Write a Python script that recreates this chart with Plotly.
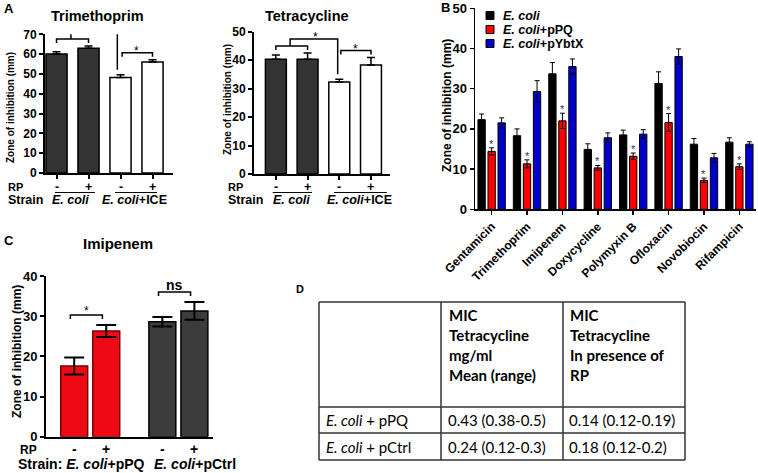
import plotly.graph_objects as go

# ---------------- data ----------------
# Panel A
a_rp = ["-", "+", "-", "+"]
a_strains = ["<i>E. coli</i>", "<i>E. coli</i>+ICE"]
trim_vals = [60.0, 62.9, 48.2, 56.0]
trim_err = [1.2, 1.2, 1.4, 1.2]
tetra_vals = [40.3, 40.3, 32.3, 38.3]
tetra_err = [1.5, 2.2, 1.0, 2.6]

# Panel B
b_drugs = ["Gentamicin", "Trimethoprim", "Imipenem", "Doxycycline",
           "Polymyxin B", "Ofloxacin", "Novobiocin", "Rifampicin"]
b_names = ["<i>E. coli</i>", "<i>E. coli</i>+pPQ", "<i>E. coli</i>+pYbtX"]
b_ecoli = [22.3, 18.3, 33.7, 14.9, 18.5, 31.3, 16.2, 16.7]
b_ecoli_err = [1.4, 1.7, 2.8, 1.4, 1.2, 2.9, 1.4, 1.1]
b_ppq = [14.4, 11.3, 22.0, 10.3, 13.2, 21.6, 7.2, 10.6]
b_ppq_err = [0.9, 1.0, 1.9, 0.6, 0.8, 2.2, 0.55, 0.7]
b_ybtx = [21.5, 29.3, 35.5, 17.8, 18.7, 38.0, 12.8, 16.2]
b_ybtx_err = [1.25, 2.7, 1.9, 1.2, 1.1, 1.9, 1.1, 0.6]

# Panel C
c_rp = ["-", "+", "-", "+"]
c_strains = ["Strain: <i>E. coli</i>+pPQ", "<i>E. coli</i>+pCtrl"]
c_vals = [17.6, 26.3, 28.6, 31.3]
c_err = [2.1, 1.5, 1.2, 2.2]

# Panel D
d_head2 = ["MIC", "Tetracycline", "mg/ml", "Mean (range)"]
d_head3 = ["MIC", "Tetracycline", "In presence of", "RP"]
d_rows = ["<i>E. coli</i> + pPQ", "<i>E. coli</i> + pCtrl"]
d_mic = ["0.43 (0.38-0.5)", "0.24 (0.12-0.3)"]
d_mic_rp = ["0.14 (0.12-0.19)", "0.18 (0.12-0.2)"]

# ---------------- helpers ----------------
W, H = 758, 473
FONT = "Liberation Sans, Arial, sans-serif"
TFONT = "Lato, Liberation Sans, sans-serif"


def px(x):
    return x / W


def py(y):
    return 1 - y / H


fig = go.Figure()
ann = []
shapes = []


def txt(x, y, text, size=13, xref="paper", yref="paper", xanchor="center",
        yanchor="middle", angle=0, bold=True, family=FONT, color="black", yshift=0):
    ann.append(dict(x=x, y=y, xref=xref, yref=yref, text=text, showarrow=False,
                    xanchor=xanchor, yanchor=yanchor, textangle=angle, yshift=yshift,
                    borderpad=0,
                    font=dict(family=family, size=size, color=color,
                              weight="bold" if bold else "normal")))


def path(xref, yref, pts, width=1.5, color="black"):
    d = "M " + " L ".join(f"{x},{y}" for x, y in pts)
    shapes.append(dict(type="path", path=d, xref=xref, yref=yref,
                       line=dict(color=color, width=width)))


def yaxis_def(top, bottom, rng, dtick, anchor, lw=2, size=12):
    return dict(domain=[py(bottom), py(top)], range=rng, dtick=dtick, anchor=anchor,
                showline=True, linecolor="black", linewidth=lw, ticks="outside",
                ticklen=4, tickwidth=lw, tickcolor="black", showgrid=False,
                zeroline=False, fixedrange=True, automargin=False,
                tickfont=dict(family=FONT, size=size, color="black", weight="bold"))


def xaxis_def(left, right, rng, anchor, lw=2, tickvals=None, ticks="outside"):
    d = dict(domain=[px(left), px(right)], range=rng, anchor=anchor,
             showline=True, linecolor="black", linewidth=lw, showgrid=False,
             zeroline=False, fixedrange=True, automargin=False)
    if tickvals is not None:
        d.update(tickvals=tickvals, ticks=ticks, ticklen=4, tickwidth=lw,
                 tickcolor="black", showticklabels=False)
    else:
        d.update(ticks=ticks, showticklabels=False)
    return d


# ---------------- Panel A ----------------
a_colors = ["#333333", "#333333", "white", "white"]
a_pos = list(range(len(a_rp)))

panels_a = [
    dict(x="x", y="y", vals=trim_vals, err=trim_err, title="Trimethoprim",
         xl=45, xr=173, yt=34.3, yb=173, rng=[0, 70], dt=10,
         xrng=[-0.36, 3.64], title_x=97, ytitle_x=10, ytitle_y=108,
         rp_x=7, under=[(-0.05, 1.2), (1.83, 3.14)], strain_x=[0.45, 2.45],
         conn_x=1.9),
    dict(x="x2", y="y2", vals=tetra_vals, err=tetra_err, title="Tetracycline",
         xl=254, xr=390, yt=31.7, yb=174, rng=[0, 50], dt=10,
         xrng=[-0.69, 3.6], title_x=307, ytitle_x=228, ytitle_y=100,
         rp_x=227, under=[(-0.1, 1.14), (1.83, 3.5)], strain_x=[0.5, 2.65],
         conn_x=1.95),
]

layout_axes = {}
for i, p in enumerate(panels_a):
    fig.add_trace(go.Bar(
        x=a_pos, y=p["vals"], width=0.66, xaxis=p["x"], yaxis=p["y"],
        marker=dict(color=a_colors, line=dict(color="black", width=1.5)),
        error_y=dict(type="data", array=p["err"], arrayminus=[0] * 4,
                     symmetric=False, color="black", thickness=1.5, width=4),
        showlegend=False, hoverinfo="skip"))
    xname = "xaxis" if p["x"] == "x" else "xaxis" + p["x"][1:]
    yname = "yaxis" if p["y"] == "y" else "yaxis" + p["y"][1:]
    layout_axes[xname] = xaxis_def(p["xl"], p["xr"], p["xrng"], p["y"], tickvals=a_pos)
    layout_axes[yname] = yaxis_def(p["yt"], p["yb"], p["rng"], p["dt"], p["x"])
    upp = (p["rng"][1] - p["rng"][0]) / (p["yb"] - p["yt"])  # units per px
    tops = [v + e for v, e in zip(p["vals"], p["err"])]
    # bracket over pair 1
    b1 = max(tops[0], tops[1]) + 7 * upp
    path(p["x"], p["y"], [(0, b1 - 4 * upp), (0, b1), (1, b1), (1, b1 - 4 * upp)])
    # connector from pair-1 bracket to bar 3
    c = b1 + 7 * upp
    path(p["x"], p["y"], [(0.45, b1), (0.45, c), (p["conn_x"], c),
                          (p["conn_x"], tops[2] + 5 * upp)])
    txt((0.45 + p["conn_x"]) / 2 + 0.05, c, "*", size=12, xref=p["x"], yref=p["y"],
        yanchor="bottom", yshift=-6, bold=False)
    # bracket over pair 2
    b2 = max(tops[2], tops[3]) + 7 * upp
    path(p["x"], p["y"], [(2.05, b2 - 4 * upp), (2.05, b2), (3, b2), (3, b2 - 4 * upp)])
    txt(2.5, b2, "*", size=12, xref=p["x"], yref=p["y"], yanchor="bottom",
        yshift=-6, bold=False)
    # titles
    txt(px(p["title_x"]), py(16), p["title"], size=14.5)
    txt(px(p["ytitle_x"]), py(p["ytitle_y"]), "Zone of inhibition (mm)", size=10,
        angle=-90)
    # RP / strain rows
    txt(px(p["rp_x"]), py(187), "RP", size=11, xanchor="left")
    txt(px(p["rp_x"]), py(199.5), "Strain", size=12.5, xanchor="left")
    for xi, s in zip(a_pos, a_rp):
        txt(xi, py(186.5), s, size=12.5, xref=p["x"])
    for (u0, u1), sx, s in zip(p["under"], p["strain_x"], a_strains):
        shapes.append(dict(type="line", xref=p["x"], yref="paper", x0=u0, x1=u1,
                           y0=py(192.5), y1=py(192.5), line=dict(color="black", width=1.2)))
        txt(sx, py(200), s, size=12.5, xref=p["x"])

txt(px(3), py(9), "A", size=13, xanchor="left")

# ---------------- Panel B ----------------
b_colors = ["black", "#FF0000", "#0000CC"]
b_series = [(b_ecoli, b_ecoli_err), (b_ppq, b_ppq_err), (b_ybtx, b_ybtx_err)]
for (vals, err), col, name in zip(b_series, b_colors, b_names):
    fig.add_trace(go.Bar(
        x=b_drugs, y=vals, xaxis="x3", yaxis="y3", name=name,
        marker=dict(color=col, line=dict(color="black", width=1)),
        error_y=dict(type="data", array=err, color="black", thickness=1, width=2.5),
        showlegend=False, hoverinfo="skip"))

# legend (compact, like the original)
for k, (col, name) in enumerate(zip(b_colors, b_names)):
    yc = 15.5 + 14 * k
    shapes.append(dict(type="rect", xref="paper", yref="paper",
                       x0=px(486), x1=px(494), y0=py(yc + 4), y1=py(yc - 4),
                       fillcolor=col, line=dict(color="black", width=1)))
    txt(px(502), py(yc), name, size=12.5, xanchor="left")

b_star_y = [v + e for v, e in zip(b_ppq, b_ppq_err)]
for d, yv in zip(b_drugs, b_star_y):
    txt(d, yv, "*", size=11, xref="x3", yref="y3", yanchor="bottom", yshift=-3,
        bold=False, color="#333333")

layout_axes["xaxis3"] = dict(domain=[px(475), px(756)], range=[-0.47, 7.47],
                             anchor="y3", type="category", showline=True,
                             linecolor="black", linewidth=1.5, ticks="outside",
                             ticklen=4, tickwidth=1.5, tickcolor="black",
                             tickangle=-45, showgrid=False, fixedrange=True,
                             automargin=False,
                             tickfont=dict(family=FONT, size=12, color="black",
                                           weight="bold"))
layout_axes["yaxis3"] = yaxis_def(8.3, 209.3, [0, 50], 10, "x3", lw=1.5, size=13)
txt(px(447), py(106), "Zone of inhibition (mm)", size=12, angle=-90)
txt(px(440), py(8), "B", size=13, xanchor="left")

# ---------------- Panel C ----------------
c_colors = ["#EE0A14", "#EE0A14", "#3C3C3C", "#3C3C3C"]
c_lines = ["#7A0000", "#7A0000", "black", "black"]
c_pos = [0, 1, 2.75, 3.75]
fig.add_trace(go.Bar(
    x=c_pos, y=c_vals, width=0.84, xaxis="x4", yaxis="y4",
    marker=dict(color=c_colors, line=dict(color=c_lines, width=1.5)),
    error_y=dict(type="data", array=c_err, color="black", thickness=2, width=10),
    showlegend=False, hoverinfo="skip"))
layout_axes["xaxis4"] = xaxis_def(46, 213, [-0.88, 4.33], "y4", ticks="")
layout_axes["yaxis4"] = yaxis_def(276, 436.7, [0, 40], 10, "x4", size=13)

upp_c = 40 / (436.7 - 276)
c_tops = [v + e for v, e in zip(c_vals, c_err)]
for (i0, i1), lab, ysh in [((0, 1), "*", -4), ((2, 3), "ns", -2)]:
    lvl = max(c_tops[i0], c_tops[i1]) + 10 * upp_c
    x0, x1 = c_pos[i0] - 0.12, c_pos[i1] - 0.12
    path("x4", "y4", [(x0, lvl - 4 * upp_c), (x0, lvl), (x1, lvl), (x1, lvl - 4 * upp_c)])
    txt((x0 + x1) / 2, lvl, lab, size=12 if lab == "*" else 14, xref="x4", yref="y4",
        yanchor="bottom", yshift=ysh, bold=(lab != "*"))

txt(px(118), py(243), "Imipenem", size=15)
txt(px(17), py(352), "Zone of inhibition (mm)", size=12, angle=-90)
txt(px(19), py(450), "RP", size=12, xanchor="left")
for xi, s in zip(c_pos, c_rp):
    txt(xi, py(448.5), s, size=14, xref="x4")
txt(px(17), py(463.5), c_strains[0], size=14, xanchor="left")
txt(px(153), py(463.5), c_strains[1], size=14, xanchor="left")
txt(px(3), py(240), "C", size=13, xanchor="left")

# ---------------- Panel D (table) ----------------
tl, tr, tt, tb = 319, 685, 302, 460
cols = [tl, 441, 563, tr]
rows = [tt, 407, 433, tb]
tcol = "#333333"
for xc in cols:
    shapes.append(dict(type="line", xref="paper", yref="paper", x0=px(xc), x1=px(xc),
                       y0=py(tt), y1=py(tb), line=dict(color=tcol, width=1.5)))
for yr in rows:
    shapes.append(dict(type="line", xref="paper", yref="paper", x0=px(tl), x1=px(tr),
                       y0=py(yr), y1=py(yr), line=dict(color=tcol, width=1.5)))
for k, (h2, h3) in enumerate(zip(d_head2, d_head3)):
    yy = 315 + 20 * k
    txt(px(cols[1] + 7), py(yy), h2, size=15, xanchor="left", family=TFONT)
    txt(px(cols[2] + 6), py(yy), h3, size=15, xanchor="left", family=TFONT)
for r, (lab, m1, m2) in enumerate(zip(d_rows, d_mic, d_mic_rp)):
    yy = (rows[r + 1] + rows[r + 2]) / 2
    txt(px(tl + 6), py(yy), lab, size=15, xanchor="left", family=TFONT, bold=False)
    txt(px(cols[1] + 6), py(yy), m1, size=15, xanchor="left", family=TFONT, bold=False)
    txt(px(cols[2] + 5), py(yy), m2, size=15, xanchor="left", family=TFONT, bold=False)
txt(px(295), py(289), "D", size=11, xanchor="left")

# ---------------- layout ----------------
fig.update_layout(
    template="none",
    width=W, height=H, margin=dict(l=0, r=0, t=0, b=0, autoexpand=False),
    paper_bgcolor="white", plot_bgcolor="white",
    barmode="group", bargap=0.15, bargroupgap=0.27,
    font=dict(family=FONT, color="black"),
    showlegend=False,
    annotations=ann, shapes=shapes, **layout_axes)

fig.write_html("out.html", config=dict(displayModeBar=False, staticPlot=True),
               post_script="document.body.style.margin='0';document.body.style.overflow='hidden';")
